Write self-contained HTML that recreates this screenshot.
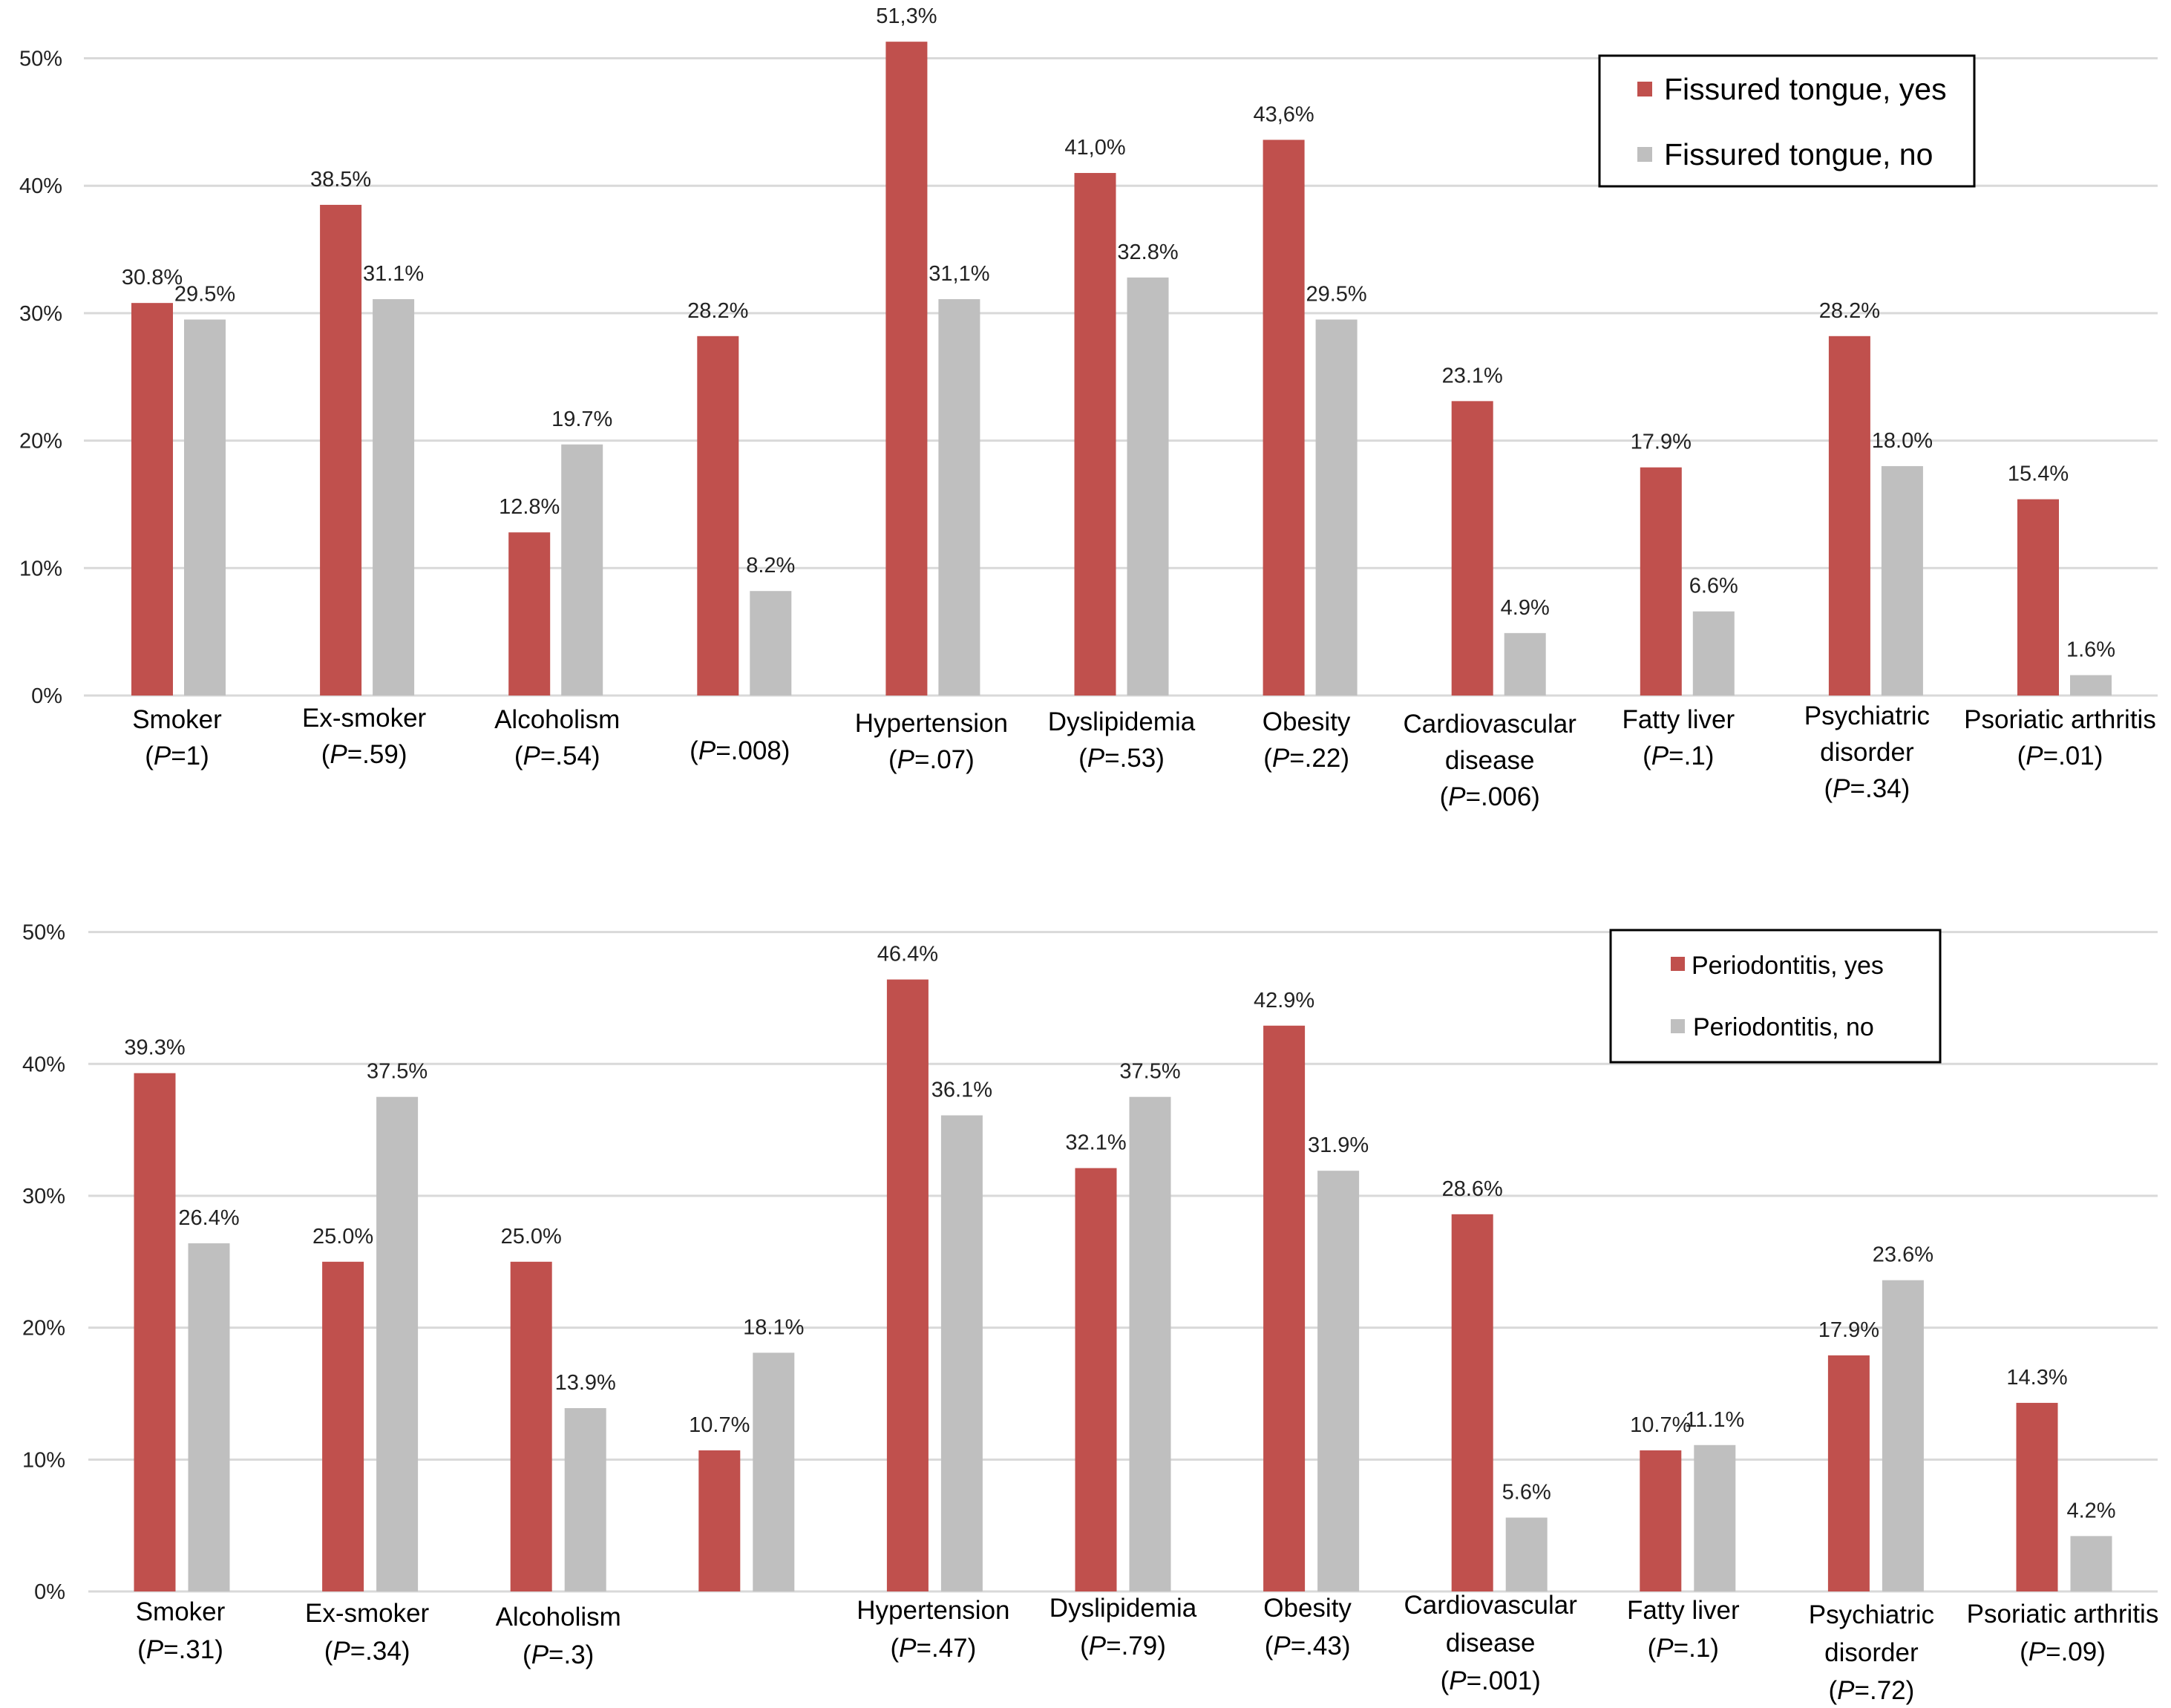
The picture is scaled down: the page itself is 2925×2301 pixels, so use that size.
<!DOCTYPE html>
<html><head><meta charset="utf-8"><style>
html,body{margin:0;padding:0;background:#fff;}
svg{display:block;font-family:"Liberation Sans",Arial,sans-serif;}
</style></head><body>
<svg id="chart" width="2925" height="2301" viewBox="0 0 2925 2301" xmlns="http://www.w3.org/2000/svg">
<g id="top"></g>
<g id="bottom"></g>
<g>
<rect x="2155" y="75" width="505" height="176" fill="#fff" stroke="#000" stroke-width="3"/>
<rect x="2206" y="110" width="20" height="20" fill="#c0504d"/>
<text x="2242" y="134" font-size="41" fill="#000">Fissured tongue, yes</text>
<rect x="2206" y="198" width="20" height="20" fill="#bfbfbf"/>
<text x="2242" y="222" font-size="41" fill="#000">Fissured tongue, no</text>
</g>
<g>
<rect x="2170" y="1253" width="444" height="178" fill="#fff" stroke="#000" stroke-width="3"/>
<rect x="2251" y="1289" width="19" height="19" fill="#c0504d"/>
<text x="2279" y="1312" font-size="34" fill="#000">Periodontitis, yes</text>
<rect x="2251" y="1373" width="19" height="19" fill="#bfbfbf"/>
<text x="2281" y="1395" font-size="34" fill="#000">Periodontitis, no</text>
</g>
</svg>
<script>
const ticks = [0,10,20,30,40,50];
const tickLabels = ["0%","10%","20%","30%","40%","50%"];
const topCatLine1 = ["Smoker","Ex-smoker","Alcoholism","","Hypertension","Dyslipidemia","Obesity","Cardiovascular","Fatty liver","Psychiatric","Psoriatic arthritis"];
const topCatLine2 = ["","","","","","","","disease","","disorder",""];
const topP = ["1",".59",".54",".008",".07",".53",".22",".006",".1",".34",".01"];
const topYes = [30.8,38.5,12.8,28.2,51.3,41.0,43.6,23.1,17.9,28.2,15.4];
const topNo = [29.5,31.1,19.7,8.2,31.1,32.8,29.5,4.9,6.6,18.0,1.6];
const topYesLabels = ["30.8%","38.5%","12.8%","28.2%","51,3%","41,0%","43,6%","23.1%","17.9%","28.2%","15.4%"];
const topNoLabels = ["29.5%","31.1%","19.7%","8.2%","31,1%","32.8%","29.5%","4.9%","6.6%","18.0%","1.6%"];
const botCatLine1 = ["Smoker","Ex-smoker","Alcoholism","","Hypertension","Dyslipidemia","Obesity","Cardiovascular","Fatty liver","Psychiatric","Psoriatic arthritis"];
const botCatLine2 = ["","","","","","","","disease","","disorder",""];
const botP = [".31",".34",".3","",".47",".79",".43",".001",".1",".72",".09"];
const botYes = [39.3,25.0,25.0,10.7,46.4,32.1,42.9,28.6,10.7,17.9,14.3];
const botNo = [26.4,37.5,13.9,18.1,36.1,37.5,31.9,5.6,11.1,23.6,4.2];
const botYesLabels = ["39.3%","25.0%","25.0%","10.7%","46.4%","32.1%","42.9%","28.6%","10.7%","17.9%","14.3%"];
const botNoLabels = ["26.4%","37.5%","13.9%","18.1%","36.1%","37.5%","31.9%","5.6%","11.1%","23.6%","4.2%"];

const NS="http://www.w3.org/2000/svg";
function mk(tag, attrs, parent, txt){const e=document.createElementNS(NS,tag);for(const k in attrs)e.setAttribute(k,attrs[k]);if(txt!==undefined)e.textContent=txt;parent.appendChild(e);return e;}

function draw(g, cfg, l1, l2, ps, yes, no, yesL, noL, dys, dxs){
  const y=v=>cfg.y0-(v/50)*(cfg.y0-cfg.y50);
  const x=i=>cfg.x0+i*cfg.step;
  ticks.forEach((t,i)=>{
    const gl=mk('line',{x1:cfg.left,x2:cfg.right,y1:y(t),y2:y(t),stroke:'#d9d9d9','stroke-width':3},g);
    
    
    const tl=mk('text',{x:cfg.tickX,y:y(t)+10,'font-size':29,'text-anchor':'end',fill:'#222'},g,tickLabels[i]);
    
    
  });
  yes.forEach((v,i)=>{
    const bx=x(i);
    const r=mk('rect',{x:bx,y:y(v),width:56,height:y(0)-y(v),fill:'#c0504d'},g);
    
    
    const n=no[i];
    const r2=mk('rect',{x:bx+cfg.gap,y:y(n),width:56,height:y(0)-y(n),fill:'#bfbfbf'},g);
    
    
    const t1=mk('text',{x:bx+28,y:y(v)-25,'font-size':29,'text-anchor':'middle',fill:'#222'},g,yesL[i]);
    
    
    const t2=mk('text',{x:bx+cfg.gap+28,y:y(n)-25,'font-size':29,'text-anchor':'middle',fill:'#222'},g,noL[i]);
    
    
    const cx=bx+(cfg.gap+56)/2+dxs[i];
    let ly=dys[i]+12;
    const lines=[];
    if(l1[i])lines.push({t:l1[i]});
    if(l2[i])lines.push({t:l2[i]});
    if(ps[i])lines.push({p:ps[i]});
    if(!l1[i]) ly+=cfg.lh;
    lines.forEach(L=>{
      const te=mk('text',{x:cx,y:ly,'font-size':35,'text-anchor':'middle',fill:'#000'},g);
      
      
      if(L.t!==undefined){te.textContent=L.t;}
      else{mk('tspan',{},te,'(');mk('tspan',{'font-style':'italic'},te,'P');mk('tspan',{},te,'='+L.p+')');}
      ly+=cfg.lh;
    });
  });
}
draw(document.getElementById('top'),{y0:937,y50:78.5,x0:177,step:254.1,gap:71,left:113,right:2907,tickX:84,lh:49},
  topCatLine1,topCatLine2,topP,topYes,topNo,topYesLabels,topNoLabels,
  [969,967,969,962,974,972,972,975,969,964,969],
  [-2,-4,2,-6,-2,0,-5,-12,-12,-12,-6]);
draw(document.getElementById('bottom'),{y0:2144,y50:1255.6,x0:180.5,step:253.6,gap:73,left:119,right:2907,tickX:88,lh:51},
  botCatLine1,botCatLine2,botP,botYes,botNo,botYesLabels,botNoLabels,
  [2171,2173,2178,2170,2169,2166,2166,2162,2169,2175,2174],
  [-2,-4,0,0,-2,0,-5,-12,-6,-6,-2]);
</script>
</body></html>
